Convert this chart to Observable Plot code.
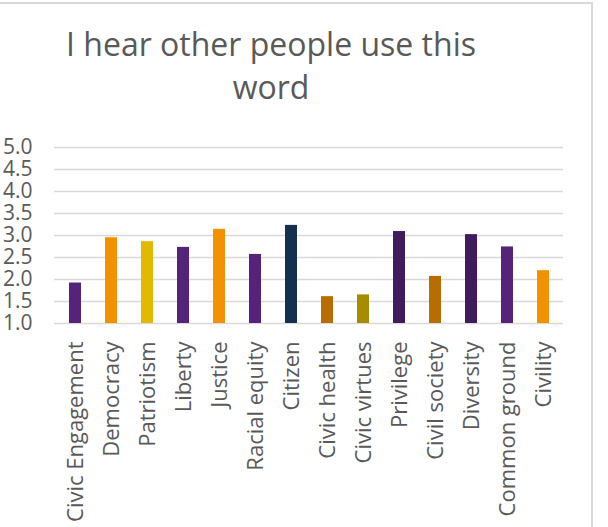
<!DOCTYPE html>
<html>
<head>
<meta charset="utf-8">
<script src="https://cdn.jsdelivr.net/npm/d3@7"></script>
<script src="https://cdn.jsdelivr.net/npm/@observablehq/plot@0.6"></script>
<style>
  html, body { margin: 0; padding: 0; background: #fff; }
  #wrap { position: relative; width: 608px; height: 527px; overflow: hidden; }
  #border { position: absolute; left: -10px; top: 2px; width: 603px; height: 540px;
            border-top: 2px solid #d9d9d9; border-right: 2px solid #d9d9d9; box-sizing: border-box; }
  #title { position: absolute; left: 0; width: 542px; top: 22px; text-align: center;
           font-family: "Open Sans", sans-serif; font-size: 32px; line-height: 43px; color: #595959; }
  #chart { position: absolute; left: 0; top: 0; }
</style>
</head>
<body>
<div id="wrap">
  <div id="border"></div>
  <div id="chart"></div>
  <div id="title">I hear other people use this<br>word</div>
</div>
<script>
const categories = ["Civic Engagement", "Democracy", "Patriotism", "Liberty", "Justice", "Racial equity", "Citizen",
  "Civic health", "Civic virtues", "Privilege", "Civil society", "Diversity", "Common ground", "Civility"];
const values = [1.92, 2.95, 2.86, 2.73, 3.14, 2.57, 3.23, 1.61, 1.65, 3.09, 2.07, 3.02, 2.74, 2.20];
const colors = ["#56237b", "#f39200", "#e1ba00", "#56237b", "#f39200", "#56237b", "#15304f",
  "#b76d00", "#a68c00", "#401c5e", "#b76d00", "#401c5e", "#56237b", "#f39200"];
const yTicks = [1.0, 1.5, 2.0, 2.5, 3.0, 3.5, 4.0, 4.5, 5.0];
const yMin = 1, yMax = 5;

const data = categories.map((c, i) => ({category: c, value: values[i], color: colors[i]}));

const chart = Plot.plot({
  width: 608,
  height: 527,
  marginLeft: 54,
  marginRight: 45,
  marginTop: 147,
  marginBottom: 204,
  style: {fontFamily: "'Open Sans', sans-serif", background: "transparent", color: "#595959"},
  x: {domain: categories, paddingInner: 0.67, paddingOuter: 0.335, label: null},
  y: {domain: [yMin, yMax], label: null},
  marks: [
    Plot.gridY(yTicks, {stroke: "#d9d9d9", strokeOpacity: 1, strokeWidth: 1.5}),
    Plot.barY(data, {x: "category", y1: () => yMin, y2: "value", fill: "color"}),
    Plot.axisY({ticks: yTicks, tickFormat: d3.format(".1f"), tickSize: 0, tickPadding: 22, fontSize: 21, fill: "#595959", label: null}),
    Plot.axisX({tickRotate: -90, tickSize: 0, tickPadding: 18, fontSize: 22, fill: "#595959", label: null})
  ]
});
document.getElementById("chart").appendChild(chart);
</script>
</body>
</html>
